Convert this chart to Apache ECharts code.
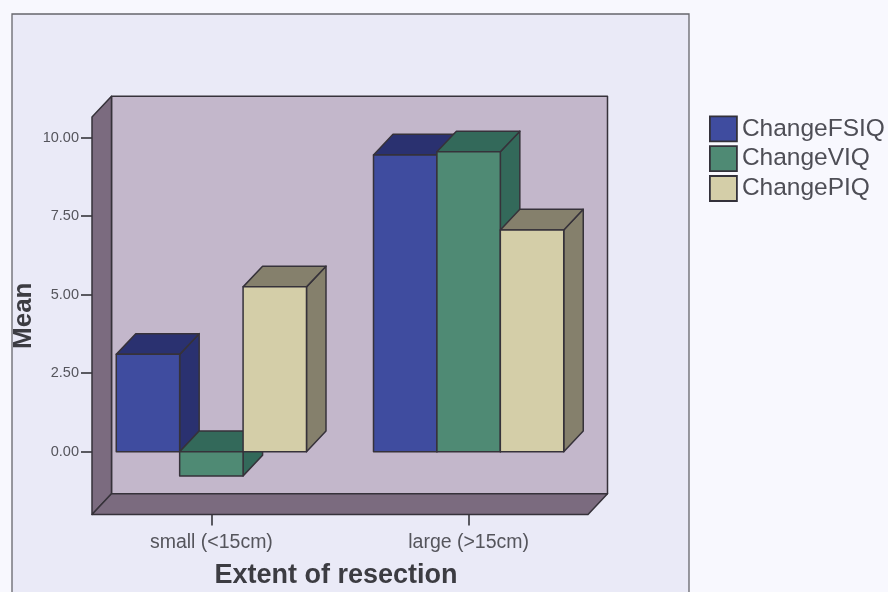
<!DOCTYPE html>
<html>
<head>
<meta charset="utf-8">
<style>
  html, body { margin: 0; padding: 0; background: #f8f8fe; }
  #chart { width: 888px; height: 592px; }
</style>
<script src="https://cdn.jsdelivr.net/npm/echarts@6/dist/echarts.min.js"></script>
</head>
<body>
<div id="chart"></div>
<script>
// Mean change in IQ scores by extent of resection
const categories = ['small (<15cm)', 'large (>15cm)'];
const changeFSIQ = [3.10, 9.45];
const changeVIQ = [-0.77, 9.55];
const changePIQ = [5.25, 7.06];
const yTicks = [0, 2.5, 5, 7.5, 10];

const seriesNames = ['ChangeFSIQ', 'ChangeVIQ', 'ChangePIQ'];
const frontColors = ['#3f4c9f', '#4f8a74', '#d4cea8'];
const shadeColors = ['#2a3170', '#33695a', '#85806c'];

// Oblique projection used for the box effect
const DEPTH_X = 19.5;
const DEPTH_Y = 20.7;
const BAR_RATIO = 0.2465;
const FRAME_INSET = 9.25;
const EDGE = '#36323a';

function poly(points, fill) {
  return {
    type: 'polygon',
    shape: { points: points },
    style: { fill: fill, stroke: EDGE, lineWidth: 1.5, lineJoin: 'round' }
  };
}

function renderBar(seriesIndex) {
  return function (params, api) {
    const band = api.size([1, 0])[0];
    const w = band * BAR_RATIO;
    const cat = api.value(0);
    const top = api.coord([cat, api.value(1)]);
    const base = api.coord([cat, 0]);
    const x0 = top[0] - w * 1.5 + w * seriesIndex;
    const x1 = x0 + w;
    const yHigh = Math.min(top[1], base[1]);
    const yLow = Math.max(top[1], base[1]);
    const dx = DEPTH_X, dy = DEPTH_Y;
    return {
      type: 'group',
      children: [
        poly([[x1, yHigh], [x1 + dx, yHigh - dy], [x1 + dx, yLow - dy], [x1, yLow]], shadeColors[seriesIndex]),
        poly([[x0, yHigh], [x0 + dx, yHigh - dy], [x1 + dx, yHigh - dy], [x1, yHigh]], shadeColors[seriesIndex]),
        poly([[x0, yHigh], [x1, yHigh], [x1, yLow], [x0, yLow]], frontColors[seriesIndex])
      ]
    };
  };
}

// Back wall, side wall and floor of the plot box
function renderFrame(params, api) {
  const cs = params.coordSys;
  const l = cs.x + FRAME_INSET;
  const r = cs.x + cs.width - FRAME_INSET;
  const t = cs.y;
  const b = cs.y + cs.height;
  const dx = DEPTH_X, dy = DEPTH_Y;
  return {
    type: 'group',
    children: [
      poly([[l + dx, t - dy], [r + dx, t - dy], [r + dx, b - dy], [l + dx, b - dy]], '#c3b7cb'),
      poly([[l, t], [l + dx, t - dy], [l + dx, b - dy], [l, b]], '#7b6b7f'),
      poly([[l, b], [l + dx, b - dy], [r + dx, b - dy], [r, b]], '#7b6b7f')
    ]
  };
}

const fontFamily = '"Liberation Sans", Arial, sans-serif';
const chart = echarts.init(document.getElementById('chart'), null, { renderer: 'canvas' });

const valueSets = [changeFSIQ, changeVIQ, changePIQ];
const barSeries = seriesNames.map(function (name, i) {
  return {
    type: 'custom',
    name: name,
    coordinateSystem: 'cartesian2d',
    renderItem: renderBar(i),
    itemStyle: { color: frontColors[i] },
    encode: { x: 0, y: 1 },
    data: valueSets[i].map(function (v, k) { return [k, v]; }),
    z: 3 + i
  };
});

chart.setOption({
  animation: false,
  backgroundColor: '#f8f8fe',
  graphic: [{
    type: 'rect',
    shape: { x: 12, y: 14, width: 677, height: 600 },
    style: { fill: '#eaeaf7', stroke: '#66666c', lineWidth: 1.3 },
    silent: true,
    z: -10
  }],
  grid: { left: 82.75, width: 514.5, top: 117, height: 397.5, outerBoundsMode: 'none' },
  legend: {
    left: 709,
    top: 115.5,
    padding: 0,
    orient: 'vertical',
    itemWidth: 27,
    itemHeight: 25,
    itemGap: 3,
    selectedMode: false,
    data: seriesNames.map(function (name, i) {
      return { name: name, icon: 'rect', itemStyle: { color: frontColors[i], borderColor: '#33313a', borderWidth: 1.8 } };
    }),
    textStyle: { fontFamily: fontFamily, fontSize: 24.5, color: '#4e4e56' }
  },
  xAxis: {
    type: 'category',
    data: categories,
    axisLine: { show: false, onZero: false },
    axisTick: { show: true, alignWithLabel: true, length: 11, lineStyle: { color: '#4a4a50', width: 1.8 } },
    axisLabel: { margin: 18.5, fontFamily: fontFamily, fontSize: 19.5, color: '#55555c' },
    name: 'Extent of resection',
    nameLocation: 'middle',
    nameGap: 48,
    nameTextStyle: { fontFamily: fontFamily, fontSize: 27, fontWeight: 'bold', color: '#3c3c42', padding: [0, 8, 0, 0] }
  },
  yAxis: {
    type: 'value',
    min: -2,
    max: 10.66,
    offset: -FRAME_INSET,
    splitLine: { show: false },
    axisLine: { show: false },
    axisTick: { show: true, length: 11, customValues: yTicks, lineStyle: { color: '#4a4a50', width: 1.8 } },
    axisLabel: {
      margin: 13,
      customValues: yTicks,
      fontFamily: fontFamily,
      fontSize: 14.5,
      color: '#55555c',
      formatter: function (v) { return v.toFixed(2); }
    },
    name: 'Mean',
    nameLocation: 'middle',
    nameGap: 55,
    nameMoveOverlap: false,
    nameRotate: 90,
    nameTextStyle: { fontFamily: fontFamily, fontSize: 26, fontWeight: 'bold', color: '#3c3c42' }
  },
  series: [{
    type: 'custom',
    name: 'frame',
    coordinateSystem: 'cartesian2d',
    renderItem: renderFrame,
    silent: true,
    encode: { x: 0, y: 1 },
    data: [[0, 0]],
    z: 1
  }].concat(barSeries)
});
</script>
</body>
</html>
